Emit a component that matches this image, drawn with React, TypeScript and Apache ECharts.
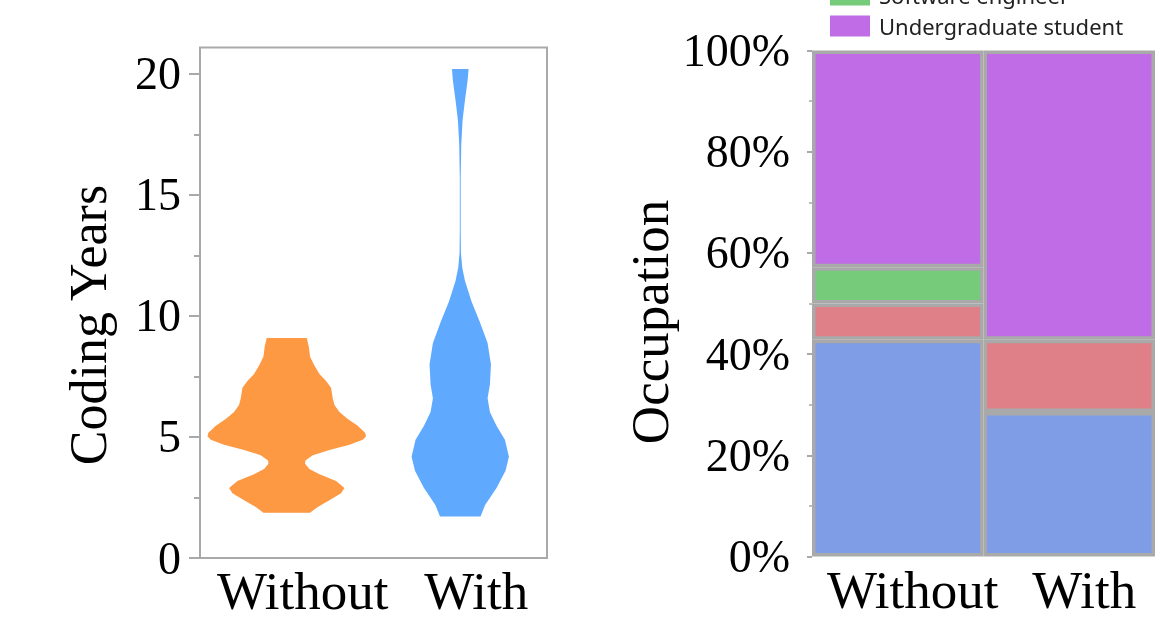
import React, { useEffect, useRef } from "react";
import * as echarts from "echarts";

const categories = ["Without", "With"];
const yearTicks = [0, 5, 10, 15, 20];
const yearMinorTicks = [2.5, 7.5, 12.5, 17.5];

// Violin profiles: coding years and relative density (fraction of half band)
const withoutYears = [9.09, 8.74, 8.31, 7.95, 7.6, 7.31, 7.03, 6.6, 6.32, 6.03, 5.74, 5.46, 5.17, 5.03, 4.89, 4.68, 4.46, 4.25, 4.03, 3.89, 3.68, 3.46, 3.18, 2.89, 2.68, 2.39, 2.11, 1.87];
const withoutDensity = [0.231, 0.254, 0.269, 0.319, 0.377, 0.453, 0.511, 0.53, 0.55, 0.607, 0.703, 0.818, 0.903, 0.914, 0.876, 0.723, 0.492, 0.3, 0.215, 0.211, 0.261, 0.377, 0.569, 0.665, 0.626, 0.492, 0.357, 0.269];
const withYears = [20.2, 19.7, 18.9, 18.1, 17.1, 15.7, 13.6, 12.6, 12.0, 11.45, 10.6, 9.74, 8.88, 8.0, 7.17, 6.6, 6.03, 5.46, 4.89, 4.18, 3.6, 2.89, 2.18, 1.71];
const withDensity = [0.096, 0.084, 0.054, 0.027, 0.012, 0.005, 0.005, 0.008, 0.023, 0.054, 0.13, 0.227, 0.315, 0.354, 0.342, 0.315, 0.342, 0.418, 0.515, 0.561, 0.522, 0.418, 0.285, 0.234];

// Occupation shares (%) per group
const occupationNames = ["Graduate student", "Researcher", "Software engineer", "Undergraduate student"];
const graduateShare = [42.86, 28.57];
const researcherShare = [7.14, 14.29];
const engineerShare = [7.14, null];
const undergradShare = [42.86, 57.14];
const percentTicks = [0, 20, 40, 60, 80, 100];

const SERIF = "'Liberation Serif', 'Times New Roman', serif";
const GRAY = "#a9a9a9";

function makeViolin(years: number[], dens: number[], color: string) {
  return (params: any, api: any) => {
    const cat = api.value(0);
    const band = api.size([1, 0])[0];
    const half = band / 2;
    const right = years.map((y, i) => {
      const p = api.coord([cat, y]);
      return [p[0] + dens[i] * half, p[1]];
    });
    const left = years
      .map((y, i) => {
        const p = api.coord([cat, y]);
        return [p[0] - dens[i] * half, p[1]];
      })
      .reverse();
    return {
      type: "polygon",
      shape: { points: right.concat(left) },
      style: { fill: color, stroke: null },
    };
  };
}

export default function App() {
  const ref = useRef<HTMLDivElement>(null);
  useEffect(() => {
    if (!ref.current) return;
    const chart = echarts.init(ref.current, null, { renderer: "svg" });
    const barColors = ["#7e9de6", "#df7f88", "#75cb7a", "#c06ce6"];
    const shares = [graduateShare, researcherShare, engineerShare, undergradShare];
    const catLabel = {
      interval: 0,
      fontFamily: SERIF,
      fontSize: 53,
      lineHeight: 44,
      color: "#000",
      margin: 11,
    };
    chart.setOption({
      animation: false,
      legend: {
        data: ["Software engineer", "Undergraduate student"],
        orient: "vertical",
        left: 830,
        top: -16,
        padding: 0,
        itemWidth: 40,
        itemHeight: 21,
        itemGap: 9,
        icon: "rect",
        itemStyle: { borderWidth: 0 },
        textStyle: { fontFamily: "'Noto Sans', sans-serif", fontSize: 22, lineHeight: 21, color: "#222", padding: [0, 0, 0, 4] },
      },
      graphic: [
        {
          type: "text",
          x: 88,
          y: 325,
          rotation: Math.PI / 2,
          style: { text: "Coding Years", font: `52px ${SERIF}`, fill: "#000", textAlign: "center", textVerticalAlign: "middle" },
        },
        {
          type: "text",
          x: 650,
          y: 322,
          rotation: Math.PI / 2,
          style: { text: "Occupation", font: `53px ${SERIF}`, fill: "#000", textAlign: "center", textVerticalAlign: "middle" },
        },
      ],
      grid: [
        { left: 200, top: 47.5, width: 347, height: 510.5, outerBoundsMode: "none", containLabel: false, show: true, borderColor: GRAY, borderWidth: 2, backgroundColor: "transparent" },
        { left: 812, top: 50.5, width: 343, height: 506, outerBoundsMode: "none", containLabel: false },
      ],
      xAxis: [
        {
          type: "category",
          gridIndex: 0,
          data: categories,
          axisLine: { show: false },
          axisTick: { show: false },
          axisLabel: { ...catLabel, padding: [0, 0, 0, 32] },
        },
        {
          type: "category",
          gridIndex: 1,
          data: categories,
          axisLine: { show: false },
          axisTick: { show: false },
          axisLabel: { ...catLabel, padding: [0, 0, 0, 30] },
        },
      ],
      yAxis: [
        {
          type: "value",
          gridIndex: 0,
          min: 0,
          max: 21.09,
          interval: 5,
          splitLine: { show: false },
          axisLine: { show: false },
          axisTick: { show: true, length: 11, customValues: yearTicks, lineStyle: { color: GRAY, width: 2 } },
          axisLabel: { customValues: yearTicks, fontFamily: SERIF, fontSize: 46, color: "#000", margin: 19 },
        },
        {
          type: "value",
          gridIndex: 0,
          min: 0,
          max: 21.09,
          interval: 5,
          position: "left",
          splitLine: { show: false },
          axisLine: { show: false },
          axisTick: { show: true, length: 6, customValues: yearMinorTicks, lineStyle: { color: GRAY, width: 2 } },
          axisLabel: { show: false },
        },
        {
          type: "value",
          gridIndex: 1,
          min: 0,
          max: 100,
          interval: 20,
          splitLine: { show: false },
          axisLine: { show: false },
          axisTick: { show: true, length: 5, lineStyle: { color: GRAY, width: 2 } },
          minorTick: { show: true, splitNumber: 2, length: 3, lineStyle: { color: GRAY, width: 1.5 } },
          axisLabel: { customValues: percentTicks, formatter: "{value}%", fontFamily: SERIF, fontSize: 46, color: "#000", margin: 22 },
        },
      ],
      series: [
        {
          type: "custom",
          name: "Without violin",
          xAxisIndex: 0,
          yAxisIndex: 0,
          data: [[0, withoutYears[0]]],
          renderItem: makeViolin(withoutYears, withoutDensity, "#fd9843"),
        },
        {
          type: "custom",
          name: "With violin",
          xAxisIndex: 0,
          yAxisIndex: 0,
          data: [[1, withYears[0]]],
          renderItem: makeViolin(withYears, withDensity, "#5faafe"),
        },
        ...occupationNames.map((name, i) => ({
          type: "bar",
          name,
          xAxisIndex: 1,
          yAxisIndex: 2,
          stack: "occupation",
          barCategoryGap: "0%",
          data: shares[i],
          itemStyle: { color: barColors[i], borderColor: GRAY, borderWidth: 3.5 },
        })),
      ],
    });
    return () => chart.dispose();
  }, []);
  return <div ref={ref} style={{ position: "fixed", left: 0, top: 0, width: 1160, height: 618 }} />;
}
